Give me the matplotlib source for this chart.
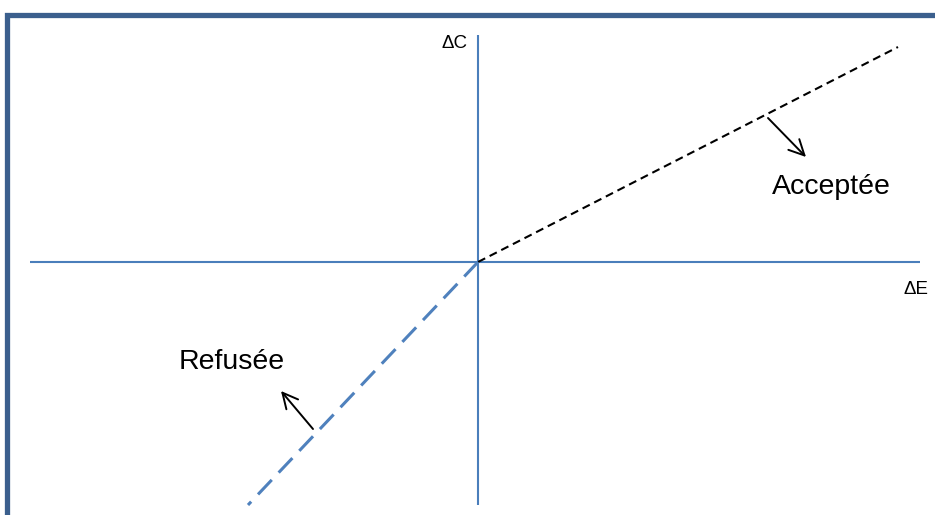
import matplotlib
matplotlib.use('Agg')
import matplotlib.pyplot as plt
from matplotlib.patches import Rectangle

plt.rcParams['font.family'] = ['Liberation Sans', 'DejaVu Sans']
plt.rcParams['lines.scale_dashes'] = False

# diagram coordinates (origin at the crossing of the two axes)
axis_e = [-448, 442]          # horizontal axis extent (delta E)
axis_c = [-243, 227]          # vertical axis extent (delta C)
accept_x = [0, 420]
accept_y = [0, 215]
refuse_x = [0, -230]
refuse_y = [0, -243]
accept_arrow = [(290, 144), (328, 105)]
refuse_arrow = [(-165, -167), (-197, -129)]
labels = {'dE': (438, -27), 'dC': (-11, 219),
          'Acceptée': (353, 75), 'Refusée': (-246, -100)}

axis_col = '#4a7ebb'

fig = plt.figure(figsize=(9.35, 5.15), dpi=100)
ax = fig.add_axes([0, 0, 1, 1])
ax.set_xlim(-478, 457)
ax.set_ylim(-253, 262)
ax.axis('off')

# frame
fig.patches.append(Rectangle((6.5 / 935, -0.2), 2, (515 - 14.5) / 515 + 0.2,
                             transform=fig.transFigure, fill=False,
                             edgecolor='#3b5f8d', linewidth=3.8))

ax.plot(axis_e, [0, 0], color=axis_col, lw=1.5, solid_capstyle='butt')
ax.plot([0, 0], axis_c, color=axis_col, lw=1.5, solid_capstyle='butt')

ax.plot(accept_x, accept_y, color='black', lw=1.5, dashes=(5.8, 3.6))
ax.plot(refuse_x, refuse_y, color='#4f81bd', lw=2.2, dashes=(14.4, 7.2))

for (x0, y0), (x1, y1) in [accept_arrow, refuse_arrow]:
    ax.annotate('', xy=(x1, y1), xytext=(x0, y0),
                arrowprops=dict(arrowstyle='->,head_length=1.1,head_width=0.55',
                                color='black', lw=1.4, shrinkA=0, shrinkB=0))

ax.text(*labels['dC'], 'ΔC', fontsize=13.5, ha='right', va='center')
ax.text(*labels['dE'], 'ΔE', fontsize=13.5, ha='center', va='center')
ax.text(*labels['Acceptée'], 'Acceptée', fontsize=20.5, ha='center', va='center')
ax.text(*labels['Refusée'], 'Refusée', fontsize=20.5, ha='center', va='center')

fig.savefig('out.png', dpi=100)
